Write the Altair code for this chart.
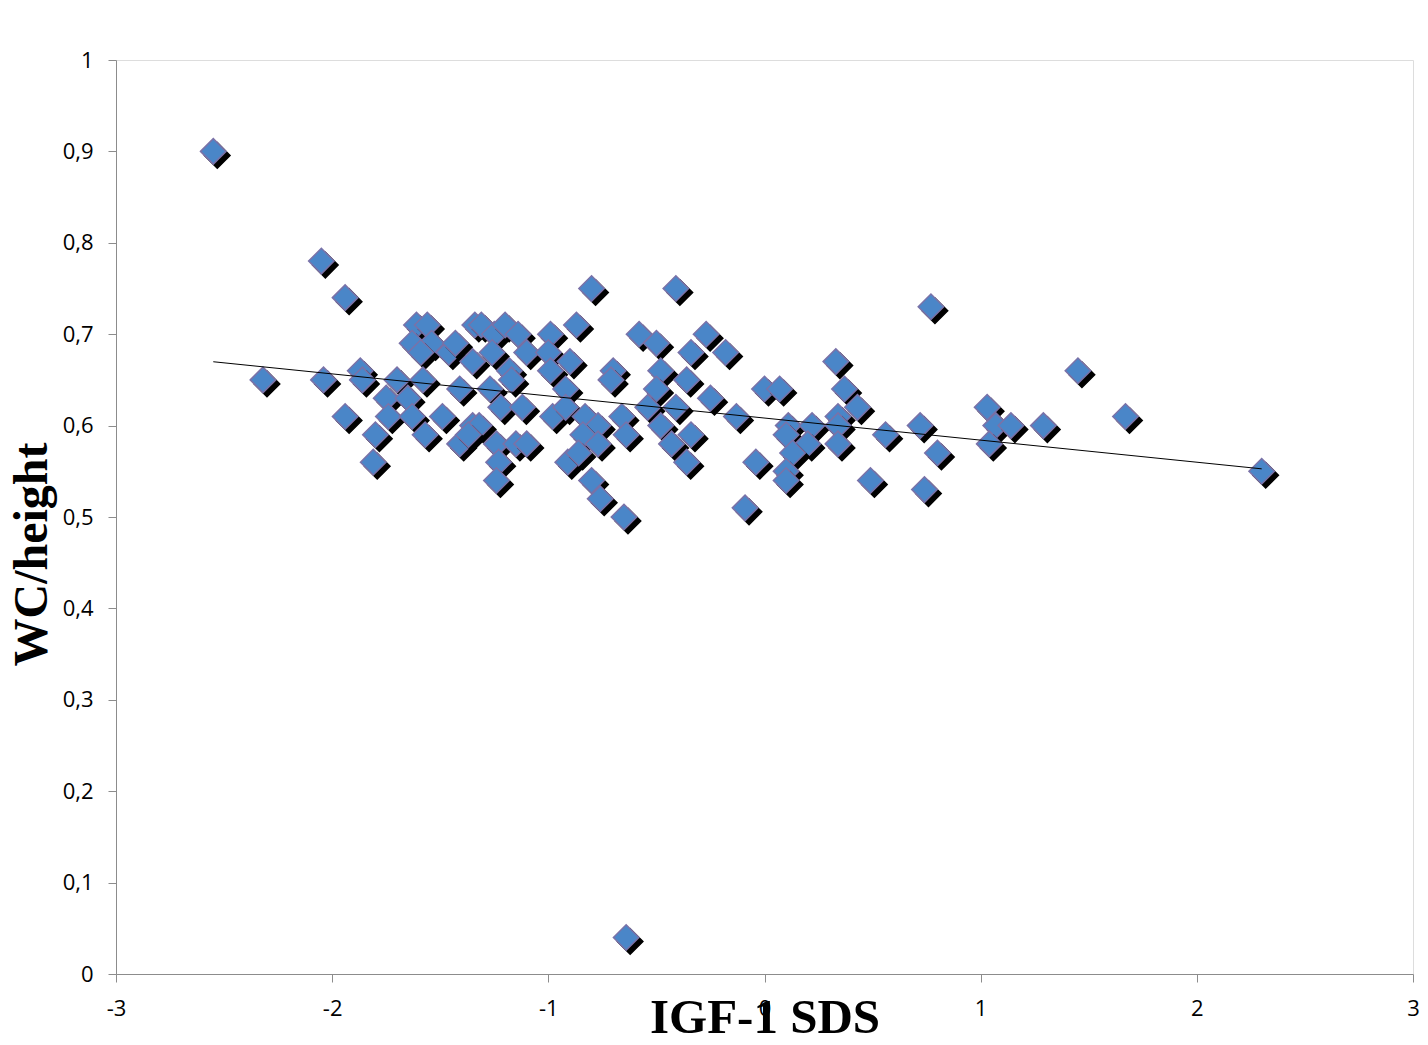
import altair as alt
import pandas as pd

igf1_sds = [
    -2.55, -2.05, -1.94, -2.32, -2.04, -1.87, -1.86, -1.94, -1.81, -1.80,
    -1.75, -1.74, -1.61, -1.56, -1.63, -1.54, -1.59, -1.70, -1.58, -1.65,
    -1.63, -1.57, -1.49, -1.46, -1.43, -1.35, -1.41, -1.41, -1.35, -1.34,
    -0.80, -0.41, -1.31, -1.25, -1.20, -1.14, -0.99, -0.87, -0.58, -0.50,
    -0.27, -0.18, -0.34, -1.26, -1.10, -1.00, -0.90, -0.70, -0.71, -1.18,
    -0.48, -0.50, -0.36, -0.99, -0.92, -1.27, -1.17, -1.22, -1.12, -0.98,
    -0.92, -0.83, -0.77, -0.66, -0.54, -0.41, -0.25, -0.13, -1.32, -1.37,
    -1.24, -1.15, -1.10, -0.84, -0.77, -0.64, -0.48, -0.43, -0.34, -1.23,
    -1.24, -0.91, -0.86, -0.80, -0.76, -0.65, -0.36, -0.09, -0.04,
    0.77, 1.45, 0.33, 0.00, 0.07, 0.37, 0.43, 0.34, 0.11, 0.22,
    0.34, 0.56, 0.72, 1.03, 1.07, 1.14, 1.29, 0.10, 0.20, 0.34,
    0.13, 1.04, 0.80, 0.10, 0.10, 0.49, 0.74, 1.67, 2.30, -0.64,
]
wc_height = [
    0.90, 0.78, 0.74, 0.65, 0.65, 0.66, 0.65, 0.61, 0.56, 0.59,
    0.63, 0.61, 0.71, 0.71, 0.69, 0.69, 0.68, 0.65, 0.65, 0.63,
    0.61, 0.59, 0.61, 0.68, 0.69, 0.67, 0.64, 0.58, 0.60, 0.71,
    0.75, 0.75, 0.71, 0.70, 0.71, 0.70, 0.70, 0.71, 0.70, 0.69,
    0.70, 0.68, 0.68, 0.68, 0.68, 0.68, 0.67, 0.66, 0.65, 0.66,
    0.66, 0.64, 0.65, 0.66, 0.64, 0.64, 0.65, 0.62, 0.62, 0.61,
    0.62, 0.61, 0.60, 0.61, 0.62, 0.62, 0.63, 0.61, 0.60, 0.59,
    0.58, 0.58, 0.58, 0.59, 0.58, 0.59, 0.60, 0.58, 0.59, 0.56,
    0.54, 0.56, 0.57, 0.54, 0.52, 0.50, 0.56, 0.51, 0.56,
    0.73, 0.66, 0.67, 0.64, 0.64, 0.64, 0.62, 0.61, 0.60, 0.60,
    0.60, 0.59, 0.60, 0.62, 0.60, 0.60, 0.60, 0.59, 0.58, 0.58,
    0.57, 0.58, 0.57, 0.55, 0.54, 0.54, 0.53, 0.61, 0.55, 0.04,
]

y_ticks = [0, 0.1, 0.2, 0.3, 0.4, 0.5, 0.6, 0.7, 0.8, 0.9, 1]
x_ticks = [-3, -2, -1, 0, 1, 2, 3]

n = len(igf1_sds)
rows = []
for i in range(n):
    rows.append({"x": igf1_sds[i], "y": wc_height[i], "layer": "shadow", "ord": 2 * i})
    rows.append({"x": igf1_sds[i], "y": wc_height[i], "layer": "marker", "ord": 2 * i + 1})
df_long = pd.DataFrame(rows)
df = pd.DataFrame({"x": igf1_sds, "y": wc_height})

xscale = alt.Scale(domain=[-3, 3], nice=False, zero=False)
yscale = alt.Scale(domain=[0, 1], nice=False, zero=False)

axis_gray = "#8c8c8c"

xaxis = alt.Axis(
    title="IGF-1 SDS", values=x_ticks, labelExpr="'' + datum.value", grid=False,
    domainColor=axis_gray, tickColor=axis_gray, tickSize=8, labelFont="Open Sans",
    labelFontSize=22, labelColor="black", labelPadding=16, labelFlush=False,
    titleFont="Liberation Serif", titleFontSize=49, titleFontWeight="bold",
    titleColor="black", titleY=58, titleBaseline="alphabetic",
)
yaxis = alt.Axis(
    title="WC/height", values=y_ticks,
    labelExpr="replace(format(datum.value, '~g'), '.', ',')", grid=False,
    domainColor=axis_gray, tickColor=axis_gray, tickSize=8, labelFont="Open Sans",
    labelFontSize=22, labelColor="black", labelPadding=15, labelFlush=False,
    titleFont="Liberation Serif", titleFontSize=48, titleFontWeight="bold",
    titleColor="black", titleAngle=270, titleX=-84, titleY=494,
    titleAlign="center", titleBaseline="middle",
)

points = alt.Chart(df_long).transform_calculate(
    px="datum.layer == 'shadow' ? datum.x + 4 / 216.2 : datum.x",
    py="datum.layer == 'shadow' ? datum.y - 4 / 914 : datum.y",
).mark_point(shape="diamond", filled=True, size=650, opacity=1, strokeWidth=1.5).encode(
    x=alt.X("px:Q", scale=xscale, axis=xaxis),
    y=alt.Y("py:Q", scale=yscale, axis=yaxis),
    fill=alt.Fill("layer:N", scale=alt.Scale(domain=["shadow", "marker"], range=["#000000", "#4a86c8"]), legend=None),
    stroke=alt.Stroke("layer:N", scale=alt.Scale(domain=["shadow", "marker"], range=["#000000", "#7a72a8"]), legend=None),
    order=alt.Order("ord:Q"),
)

trend = alt.Chart(df).transform_regression("x", "y").mark_line(color="black", strokeWidth=1).encode(
    x=alt.X("x:Q", scale=xscale),
    y=alt.Y("y:Q", scale=yscale),
)

chart = alt.layer(points, trend).properties(
    width=1297, height=914,
    autosize=alt.AutoSizeParams(type="none"),
    padding={"left": 108, "top": 52, "right": 7, "bottom": 60},
).configure_view(stroke=None).configure(background="white")

chart.save("out.html", embed_options={"renderer": "svg", "actions": False})
